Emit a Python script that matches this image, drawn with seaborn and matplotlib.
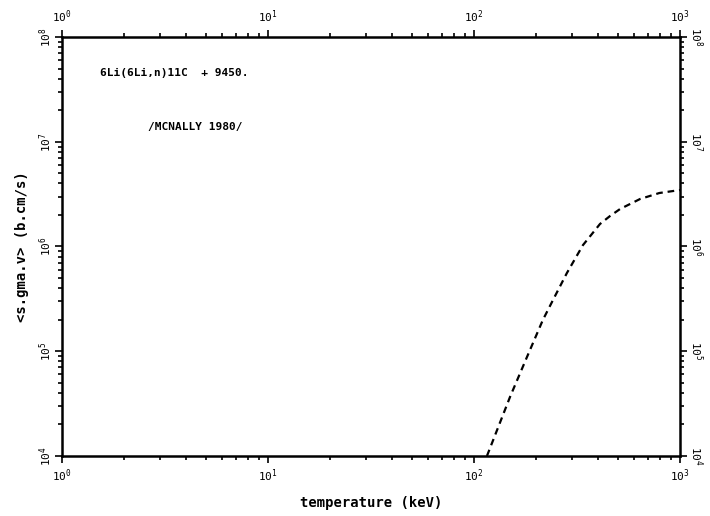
import numpy as np
import pandas as pd
import seaborn as sns
import matplotlib.pyplot as plt
from matplotlib.ticker import LogLocator, LogFormatterMathtext

# curve (temperature in keV, <sigma.v>)
temperature = [115.6, 149.6, 180.8, 216.0, 241.8, 282.5, 338.0, 409.0, 457.0, 512.0, 640.0, 794.0, 1000.0]
sigma_v = [1.0e4, 3.66e4, 8.8e4, 1.99e5, 3.08e5, 5.58e5, 1.03e6, 1.64e6, 1.95e6, 2.28e6, 2.84e6, 3.24e6, 3.46e6]

reaction_label = "6Li(6Li,n)11C  + 9450."
source_label = "/MCNALLY 1980/"
x_title = "temperature (keV)"
y_title = "<s.gma.v> (b.cm/s)"

sns.set_style("ticks")
plt.rcParams['font.family'] = ['DejaVu Sans Mono', 'DejaVu Sans']
plt.rcParams['text.color'] = 'black'
plt.rcParams['axes.labelcolor'] = 'black'
plt.rcParams['xtick.color'] = 'black'
plt.rcParams['ytick.color'] = 'black'
plt.rcParams['axes.edgecolor'] = 'black'

df = pd.DataFrame({'T': temperature, 'sv': sigma_v})

fig = plt.figure(figsize=(7.1, 5.16), dpi=100)
ax = fig.add_axes([0.0873, 0.1163, 0.8704, 0.812])

sns.lineplot(data=df, x='T', y='sv', ax=ax, color='black', linewidth=1.6,
             linestyle=(0, (3, 2.2)), legend=False)

ax.set_xscale('log')
ax.set_yscale('log')
ax.set_xlim(1, 1000)
ax.set_ylim(1e4, 1e8)

for side in ['top', 'right', 'bottom', 'left']:
    ax.spines[side].set_visible(True)
    ax.spines[side].set_linewidth(1.8)
    ax.spines[side].set_color('black')

for axis in [ax.xaxis, ax.yaxis]:
    axis.set_major_locator(LogLocator(base=10, numticks=10))
    axis.set_minor_locator(LogLocator(base=10, subs=np.arange(2, 10), numticks=10))
    axis.set_major_formatter(LogFormatterMathtext())

ax.tick_params(which='both', direction='out', top=True, right=True,
               labeltop=True, labelright=True, width=1.2, labelsize=8,
               colors='black')
ax.tick_params(which='major', length=5)
ax.tick_params(which='minor', length=3)
ax.tick_params(axis='y', which='major', pad=1)
for t in ax.yaxis.get_major_ticks():
    t.label2.set_rotation(-90)
    t.label2.set_va('center')
    t.label1.set_rotation(90)
    t.label1.set_va('center')

ax.set_xlabel(x_title, fontsize=10, fontweight='bold', labelpad=8)
ax.set_ylabel(y_title, fontsize=10, fontweight='bold', labelpad=6)

ax.text(0.061, 0.914, reaction_label, transform=ax.transAxes, fontsize=8,
        fontweight='bold', va='center', ha='left')
ax.text(0.139, 0.785, source_label, transform=ax.transAxes, fontsize=8,
        fontweight='bold', va='center', ha='left')

fig.savefig('out.png', dpi=100)
